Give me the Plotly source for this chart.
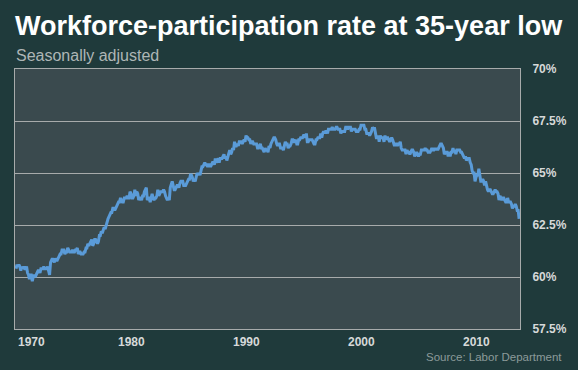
import pandas as pd
import plotly.graph_objects as go

title_text = "Workforce-participation rate at 35-year low"
subtitle_text = "Seasonally adjusted"
source_text = "Source: Labor Department"

# Monthly labour-force participation rate (%), Jan 1970 - Oct 2013
rate_1970s = [
    60.4, 60.6, 60.5, 60.6, 60.5, 60.3, 60.5, 60.4, 60.5, 60.4, 60.4, 60.5,
    60.2, 60.1, 59.9, 60.1, 60.1, 59.8, 60.0, 60.1, 60.0, 60.1, 60.2, 60.3,
    60.3, 60.2, 60.4, 60.4, 60.4, 60.5, 60.4, 60.4, 60.4, 60.5, 60.2, 60.1,
    60.7, 60.8, 60.9, 60.8, 60.7, 60.9, 60.8, 60.8, 60.9, 61.0, 61.1, 61.1,
    61.3, 61.3, 61.3, 61.1, 61.2, 61.2, 61.4, 61.3, 61.2, 61.2, 61.2, 61.3,
    61.2, 61.2, 61.3, 61.3, 61.4, 61.1, 61.2, 61.2, 61.1, 61.1, 61.1, 61.2,
    61.2, 61.4, 61.4, 61.6, 61.5, 61.6, 61.7, 61.8, 61.5, 61.6, 61.8, 61.8,
    61.7, 61.6, 61.7, 62.0, 62.0, 62.2, 62.1, 62.3, 62.4, 62.3, 62.5, 62.7,
    62.8, 62.9, 63.0, 63.1, 63.1, 63.3, 63.3, 63.2, 63.3, 63.4, 63.5, 63.6,
    63.6, 63.8, 63.7, 63.6, 63.6, 63.8, 63.8, 63.8, 63.9, 63.8, 63.8, 64.1,
]
rate_1980s = [
    64.0, 63.8, 63.8, 63.9, 64.2, 63.9, 64.1, 64.0, 63.7, 63.8, 63.8, 63.7,
    63.9, 63.9, 64.1, 64.2, 64.3, 63.7, 63.8, 63.8, 63.6, 63.8, 64.0, 63.8,
    63.7, 63.8, 63.8, 63.9, 64.2, 63.9, 64.0, 64.1, 64.1, 64.1, 64.2, 64.1,
    63.9, 63.8, 63.7, 63.8, 63.7, 64.3, 64.5, 64.6, 64.4, 64.2, 64.2, 64.3,
    64.4, 64.4, 64.3, 64.5, 64.6, 64.6, 64.6, 64.4, 64.4, 64.4, 64.5, 64.6,
    64.7, 64.7, 64.9, 64.9, 64.8, 64.6, 64.7, 64.6, 64.9, 65.0, 64.9, 65.0,
    64.9, 65.1, 65.3, 65.3, 65.4, 65.5, 65.4, 65.4, 65.3, 65.4, 65.4, 65.3,
    65.4, 65.5, 65.5, 65.4, 65.7, 65.5, 65.6, 65.7, 65.5, 65.7, 65.7, 65.7,
    65.8, 65.9, 65.7, 65.8, 65.6, 65.8, 65.9, 66.1, 65.9, 66.0, 66.2, 66.1,
    66.5, 66.3, 66.3, 66.4, 66.3, 66.5, 66.5, 66.5, 66.4, 66.5, 66.6, 66.5,
]
rate_1990s = [
    66.8, 66.7, 66.7, 66.6, 66.6, 66.4, 66.5, 66.5, 66.4, 66.4, 66.4, 66.4,
    66.2, 66.2, 66.3, 66.4, 66.2, 66.2, 66.1, 66.0, 66.2, 66.1, 66.1, 66.0,
    66.3, 66.2, 66.4, 66.5, 66.6, 66.7, 66.7, 66.6, 66.4, 66.3, 66.4, 66.4,
    66.2, 66.2, 66.2, 66.1, 66.4, 66.5, 66.4, 66.4, 66.2, 66.3, 66.3, 66.4,
    66.6, 66.6, 66.5, 66.5, 66.6, 66.4, 66.4, 66.6, 66.6, 66.7, 66.7, 66.7,
    66.8, 66.8, 66.7, 66.9, 66.5, 66.5, 66.6, 66.6, 66.6, 66.6, 66.5, 66.4,
    66.4, 66.6, 66.6, 66.7, 66.7, 66.7, 66.9, 66.7, 66.9, 67.0, 66.9, 67.0,
    67.0, 66.9, 67.1, 67.1, 67.1, 67.1, 67.2, 67.1, 67.1, 67.1, 67.2, 67.2,
    67.1, 67.1, 67.1, 66.9, 67.0, 67.0, 67.0, 67.0, 67.2, 67.2, 67.1, 67.2,
    67.2, 67.2, 67.0, 67.1, 67.1, 67.1, 67.1, 67.0, 67.0, 67.0, 67.1, 67.1,
]
rate_2000s = [
    67.3, 67.3, 67.3, 67.3, 67.1, 67.1, 66.9, 66.9, 66.9, 66.8, 66.9, 67.0,
    67.2, 67.1, 67.2, 66.9, 66.7, 66.7, 66.8, 66.5, 66.8, 66.7, 66.7, 66.7,
    66.5, 66.8, 66.6, 66.7, 66.7, 66.6, 66.5, 66.6, 66.7, 66.6, 66.4, 66.3,
    66.4, 66.4, 66.3, 66.4, 66.4, 66.5, 66.2, 66.1, 66.1, 66.1, 66.1, 65.9,
    66.1, 66.0, 66.0, 65.9, 66.0, 66.1, 66.1, 66.0, 65.8, 65.9, 66.0, 65.9,
    65.8, 65.9, 65.9, 66.1, 66.1, 66.1, 66.1, 66.2, 66.1, 66.1, 66.0, 66.0,
    66.0, 66.1, 66.2, 66.1, 66.1, 66.2, 66.1, 66.2, 66.1, 66.2, 66.3, 66.4,
    66.4, 66.3, 66.2, 65.9, 66.0, 66.0, 66.0, 65.8, 66.0, 65.8, 66.0, 66.0,
    66.2, 66.0, 66.1, 65.9, 66.1, 66.1, 66.1, 66.1, 66.0, 66.0, 65.9, 65.8,
    65.7, 65.8, 65.6, 65.7, 65.7, 65.7, 65.5, 65.4, 65.1, 65.0, 65.0, 64.6,
]
rate_2010s = [
    64.8, 64.9, 64.9, 65.2, 64.9, 64.6, 64.6, 64.7, 64.6, 64.4, 64.6, 64.3,
    64.2, 64.1, 64.2, 64.2, 64.1, 64.0, 64.0, 64.1, 64.2, 64.1, 64.1, 64.0,
    63.7, 63.9, 63.8, 63.7, 63.8, 63.8, 63.7, 63.6, 63.6, 63.8, 63.6, 63.6,
    63.6, 63.5, 63.3, 63.4, 63.4, 63.5, 63.4, 63.2, 63.2, 62.8,
]
rates = rate_1970s + rate_1980s + rate_1990s + rate_2000s + rate_2010s
months = pd.date_range("1970-01-01", periods=len(rates), freq="MS")

x_tick_years = [1970, 1980, 1990, 2000, 2010]
y_tick_vals = [57.5, 60, 62.5, 65, 67.5, 70]
y_tick_text = ["57.5%", "60%", "62.5%", "65%", "67.5%", "70%"]

BG = "#1f3a3b"
PLOT_BG = "#3a4a4e"
GRID = "#a7abab"
LINE = "#5a9bd8"
FONT = "Liberation Sans, Arial, sans-serif"

fig = go.Figure()
fig.add_trace(go.Scatter(
    x=months, y=rates, mode="lines",
    line=dict(color=LINE, width=3),
    hoverinfo="x+y", showlegend=False,
))

fig.update_layout(
    width=578, height=370,
    margin=dict(l=15, r=58, t=69, b=41),
    paper_bgcolor=BG, plot_bgcolor=PLOT_BG,
    xaxis=dict(
        type="date",
        range=["1969-11-29", "2013-10-29"],
        showgrid=False, showticklabels=False, ticks="",
        showline=True, linecolor=GRID, linewidth=1, mirror=True,
        zeroline=False,
    ),
    yaxis=dict(
        side="right", range=[57.5, 70],
        tickvals=y_tick_vals, ticktext=y_tick_text,
        showgrid=True, gridcolor=GRID, gridwidth=1,
        showline=True, linecolor=GRID, linewidth=1, mirror=True,
        ticks="outside", ticklen=9, tickcolor="rgba(0,0,0,0)",
        tickfont=dict(family=FONT, size=12, color="#d6d9d9", weight="bold"),
        zeroline=False,
    ),
)

annotations = []
for yr in x_tick_years:
    annotations.append(dict(
        x=f"{yr}-01-01", xref="x", y=0, yref="paper",
        text=str(yr), showarrow=False,
        xanchor="left" if yr == x_tick_years[0] else "center",
        yanchor="top", yshift=-4,
        font=dict(family=FONT, size=12, color="#d6d9d9", weight="bold"),
    ))

annotations.append(dict(
    x=0, xref="paper", y=1, yref="paper", text=title_text,
    showarrow=False, xanchor="left", yanchor="middle", yshift=43, xshift=-2,
    font=dict(family=FONT, size=27, color="#ffffff", weight="bold"),
))
annotations.append(dict(
    x=0, xref="paper", y=1, yref="paper", text=subtitle_text,
    showarrow=False, xanchor="left", yanchor="middle", yshift=14, xshift=-1,
    font=dict(family=FONT, size=16, color="#aeb6b6"),
))
annotations.append(dict(
    x=1, xref="paper", y=0, yref="paper", text=source_text,
    showarrow=False, xanchor="right", yanchor="middle", yshift=-28, xshift=44,
    font=dict(family=FONT, size=11.5, color="#8c9a9a"),
))
fig.update_layout(annotations=annotations)

fig.write_html(
    "out.html",
    config={"displayModeBar": False},
    post_script="document.body.style.margin='0px';document.body.style.overflow='hidden';",
)
